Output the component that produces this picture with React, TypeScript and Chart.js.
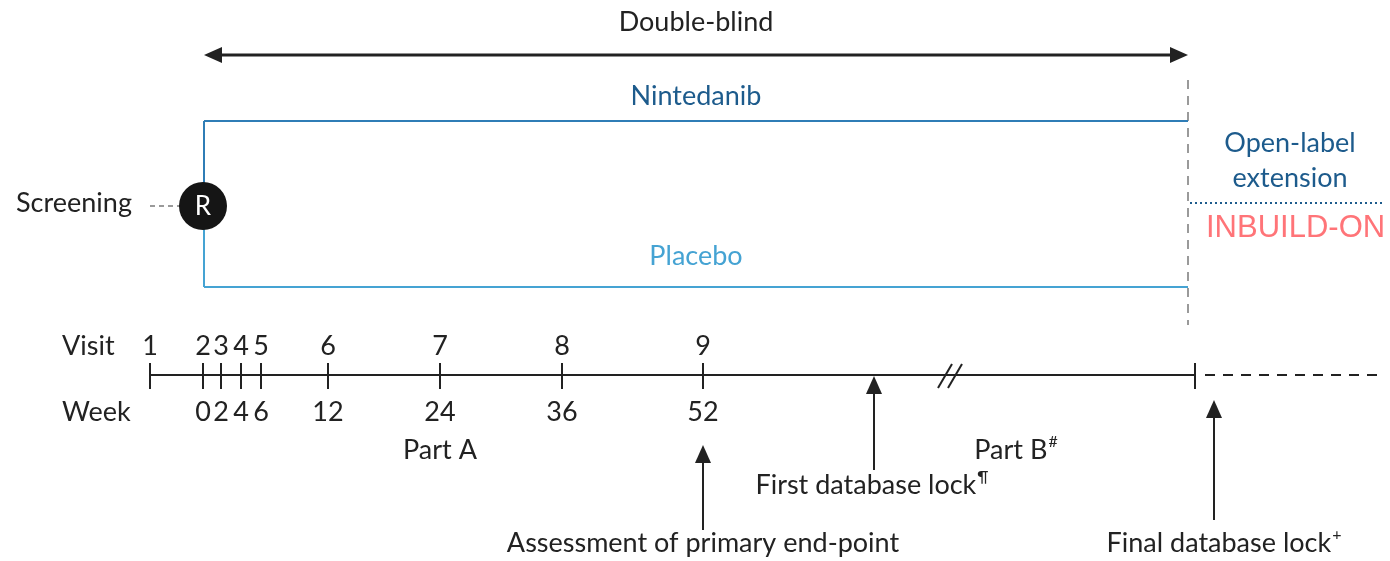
import React, { useEffect, useRef } from "react";
import { Chart, registerables } from "chart.js";
Chart.register(...registerables);

// Layout units: the canvas is a 1390 x 561 design space
const W = 1390;
const H = 561;

// Timeline data
const visitLabels = ["1", "2", "3", "4", "5", "6", "7", "8", "9"];
const visitPos = [150, 203, 221, 241, 261, 328, 440, 562, 703];
const weekLabels = ["", "0", "2", "4", "6", "12", "24", "36", "52"];
const timelineStart = 150;
const timelineEnd = 1195;
const extensionEnd = 1385;
const timelineY = 375;
const visitRowY = 346;
const weekRowY = 412;

// Arms
const armLeft = 204;
const armRight = 1188;
const nintedanibY = 121;
const placeboY = 287;
const randomY = 206;

// Milestone arrows [x, fromY, toY]
const milestoneX = [703, 874, 1214];
const milestoneFrom = [530, 470, 520];
const milestoneTo = [445, 376, 400];

const DARK = "#222222";
const BLUE_D = "#1d5b8c";
const BLUE_M = "#2f7db6";
const BLUE_L = "#45a3d3";
const GREY = "#9a9a9a";
const RED = "#ff7478";
const FONT = "Lato";
const SIZE = 27;

type Txt = { t: string; x: number; y: number; c?: string; s?: number; a?: CanvasTextAlign; sup?: string; f?: string };

const labels: Txt[] = [
  { t: "Double-blind", x: 696, y: 22 },
  { t: "Nintedanib", x: 696, y: 96, c: BLUE_D },
  { t: "Placebo", x: 696, y: 256, c: BLUE_L },
  { t: "Screening", x: 74, y: 203 },
  { t: "Open-label", x: 1290, y: 143, c: BLUE_D },
  { t: "extension", x: 1290, y: 178, c: BLUE_D },
  { t: "INBUILD-ON", x: 1206, y: 228, c: RED, a: "left", s: 31, f: "Liberation Sans" },
  { t: "Visit", x: 62, y: visitRowY, a: "left" },
  { t: "Week", x: 62, y: weekRowY, a: "left" },
  { t: "Part A", x: 440, y: 450 },
  { t: "Part B", x: 1016, y: 450, sup: "#" },
  { t: "First database lock", x: 872, y: 485, sup: "¶" },
  { t: "Assessment of primary end-point", x: 703, y: 543 },
  { t: "Final database lock", x: 1224, y: 543, sup: "+" },
];

const seg = (x1: number, y1: number, x2: number, y2: number, color: string, width = 2, dash: number[] = []) => ({
  type: "line" as const,
  data: [
    { x: x1, y: y1 },
    { x: x2, y: y2 },
  ],
  borderColor: color,
  borderWidth: width,
  borderDash: dash,
  pointRadius: 0,
  fill: false,
  tension: 0,
  showLine: true,
  clip: false,
  order: 1,
});

export default function App() {
  const ref = useRef<HTMLCanvasElement>(null);
  useEffect(() => {
    if (!ref.current) return;
    const datasets: any[] = [];
    // double-blind arrow shaft
    datasets.push(seg(armLeft + 8, 55, armRight - 8, 55, DARK, 3));
    // arms
    datasets.push(seg(armLeft, nintedanibY, armRight, nintedanibY, BLUE_M, 2));
    datasets.push(seg(armLeft, nintedanibY, armLeft, randomY, BLUE_M, 2));
    datasets.push(seg(armLeft, randomY, armLeft, placeboY, BLUE_L, 2));
    datasets.push(seg(armLeft, placeboY, armRight, placeboY, BLUE_L, 2));
    // vertical grey dashed divider
    datasets.push(seg(armRight, 80, armRight, 325, GREY, 2, [9, 7]));
    // screening dashed
    datasets.push(seg(150, randomY, 180, randomY, GREY, 2, [5, 4]));
    // dotted separator
    datasets.push(seg(armRight + 2, 203, 1382, 203, BLUE_D, 2, [2, 3]));
    // timeline
    datasets.push(seg(timelineStart, timelineY, timelineEnd, timelineY, DARK, 2));
    datasets.push(seg(timelineEnd + 10, timelineY, extensionEnd, timelineY, DARK, 2, [10, 8]));
    visitPos.forEach((p) => datasets.push(seg(p, timelineY - 12, p, timelineY + 14, DARK, 2)));
    datasets.push(seg(timelineEnd, timelineY - 12, timelineEnd, timelineY + 14, DARK, 2));
    // break marks
    datasets.push(seg(938, 388, 952, 364, DARK, 2));
    datasets.push(seg(948, 388, 962, 364, DARK, 2));
    // milestone shafts
    milestoneX.forEach((mx, i) => datasets.push(seg(mx, milestoneFrom[i], mx, milestoneTo[i] + 14, DARK, 2)));
    // randomisation circle (drawn on top of the arm lines)
    datasets.push({
      type: "scatter",
      data: [{ x: armLeft - 1, y: randomY }],
      pointRadius: 24,
      pointBackgroundColor: "#151515",
      pointBorderWidth: 0,
      clip: false,
      order: -1,
    });

    const overlay = {
      id: "overlay",
      afterDatasetsDraw(chart: any) {
        const ctx = chart.ctx as CanvasRenderingContext2D;
        const xs = chart.scales.x;
        const ys = chart.scales.y;
        const px = (v: number) => xs.getPixelForValue(v);
        const py = (v: number) => ys.getPixelForValue(v);
        ctx.save();
        // arrow heads
        const head = (x: number, y: number, dir: string, len = 18, half = 8) => {
          ctx.fillStyle = DARK;
          ctx.beginPath();
          const X = px(x), Y = py(y);
          if (dir === "up") {
            ctx.moveTo(X, Y); ctx.lineTo(X - half, Y + len); ctx.lineTo(X + half, Y + len);
          } else if (dir === "left") {
            ctx.moveTo(X, Y); ctx.lineTo(X + len, Y - half); ctx.lineTo(X + len, Y + half);
          } else {
            ctx.moveTo(X, Y); ctx.lineTo(X - len, Y - half); ctx.lineTo(X - len, Y + half);
          }
          ctx.closePath();
          ctx.fill();
        };
        head(armLeft, 55, "left");
        head(armRight, 55, "right");
        milestoneX.forEach((mx, i) => head(mx, milestoneTo[i], "up", 18, 8));

        ctx.textBaseline = "middle";
        const draw = (o: Txt) => {
          const size = o.s ?? SIZE;
          ctx.font = `${size}px "${o.f ?? FONT}"`;
          ctx.fillStyle = o.c ?? DARK;
          const a = o.a ?? "center";
          const X = px(o.x);
          const Y = py(o.y);
          if (o.sup) {
            const w = ctx.measureText(o.t).width;
            ctx.font = `${Math.round(size * 0.6)}px "${o.f ?? FONT}"`;
            const sw = ctx.measureText(o.sup).width;
            const left = a === "center" ? X - (w + sw + 1) / 2 : X;
            ctx.font = `${size}px "${o.f ?? FONT}"`;
            ctx.textAlign = "left";
            ctx.fillText(o.t, left, Y);
            ctx.font = `${Math.round(size * 0.6)}px "${o.f ?? FONT}"`;
            ctx.fillText(o.sup, left + w + 1, Y - size * 0.3);
          } else {
            ctx.textAlign = a;
            ctx.fillText(o.t, X, Y);
          }
        };
        labels.forEach(draw);
        visitLabels.forEach((l, i) => draw({ t: l, x: visitPos[i], y: visitRowY }));
        weekLabels.forEach((l, i) => l && draw({ t: l, x: visitPos[i], y: weekRowY }));
        // R
        ctx.font = `26px "${FONT}"`;
        ctx.fillStyle = "#ffffff";
        ctx.textAlign = "center";
        ctx.fillText("R", px(armLeft - 1), py(randomY + 1));
        ctx.restore();
      },
    };

    const chart = new Chart(ref.current, {
      type: "scatter",
      data: { datasets },
      options: {
        animation: false,
        responsive: false,
        maintainAspectRatio: false,
        layout: { padding: 0, autoPadding: false },
        events: [],
        scales: {
          x: { type: "linear", min: 0, max: W, display: false },
          y: { type: "linear", min: 0, max: H, reverse: true, display: false },
        },
        plugins: { legend: { display: false }, tooltip: { enabled: false } },
      },
      plugins: [overlay],
    });
    return () => chart.destroy();
  }, []);
  return (
    <div style={{ position: "absolute", left: 0, top: 0, width: W, height: H, background: "#fff" }}>
      <canvas ref={ref} width={W} height={H} style={{ display: "block" }} />
    </div>
  );
}
